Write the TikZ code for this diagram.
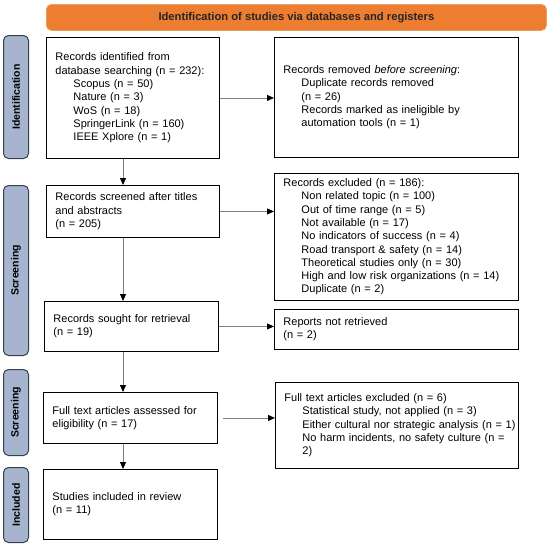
\documentclass[tikz,border=0pt]{standalone}
\usepackage{fontspec}
\setmainfont{Liberation Sans}
\usetikzlibrary{arrows.meta}
\definecolor{tabfill}{HTML}{A6B4D0}
\definecolor{tabdraw}{HTML}{3A3F4E}
\definecolor{orangefill}{HTML}{ED7D31}
\definecolor{orangedraw}{HTML}{E8A060}
\definecolor{arrgray}{HTML}{808080}
\newcommand{\ind}{\hspace*{18pt}}
\begin{document}
\begin{tikzpicture}[x=1pt,y=-1pt,
  every node/.style={font=\fontsize{11}{13.3}\selectfont},
  box/.style={draw=black, line width=0.9pt, anchor=north west, inner xsep=9pt, inner ysep=0pt, align=left, fill=white},
  tab/.style={draw=tabdraw, fill=tabfill, line width=1pt, rounded corners=5pt, minimum width=25pt, anchor=north west, inner sep=0pt},
  tablabel/.style={rotate=90, font=\fontsize{10.5}{12}\selectfont\bfseries, text=black},
  arr/.style={draw=arrgray, line width=0.9pt, -{Triangle[length=7pt,width=6pt,color=black]}}
]
\useasboundingbox (0,0) rectangle (550,544);
% banner
\node[draw=orangedraw, fill=orangefill, rounded corners=5pt, line width=0.8pt, anchor=north west, minimum width=500pt, minimum height=26pt, inner sep=0pt, font=\fontsize{11.2}{12}\selectfont\bfseries, text=black!85] (ban) at (46,4) {Identification of studies via databases and registers};
% side tabs
\node[tab, minimum height=123pt] (t1) at (3,35) {};
\node[tablabel] (l1) at (t1.center) {Identification};
\node[tab, minimum height=170pt] (t2) at (3,185) {};
\node[tablabel] (l2) at (t2.center) {Screening};
\node[tab, minimum height=86pt] (t3) at (3,369) {};
\node[tablabel] (l3) at (t3.center) {Screening};
\node[tab, minimum height=75pt] (t4) at (3,467) {};
\node[tablabel] (l4) at (t4.center) {Included};
% boxes
\node[box, text width=155pt, minimum height=121pt] (b1) at (46,37) {Records identified from\\database searching (n = 232):\\\ind Scopus (n = 50)\\\ind Nature (n = 3)\\\ind WoS (n = 18)\\\ind SpringerLink (n = 160)\\\ind IEEE Xplore (n = 1)};
\node[box, text width=226pt, minimum height=120pt] (b2) at (274,37) {Records removed \textit{before screening}:\\\ind Duplicate records removed\\\ind (n = 26)\\\ind Records marked as ineligible by\\\ind automation tools (n = 1)};
\node[box, text width=155pt, minimum height=52pt] (b3) at (46,185) {Records screened after titles\\and abstracts\\(n = 205)};
\node[box, text width=226pt, minimum height=127pt] (b4) at (274,173) {Records excluded (n = 186):\\\ind Non related topic (n = 100)\\\ind Out of time range (n = 5)\\\ind Not available (n = 17)\\\ind No indicators of success (n = 4)\\\ind Road transport \& safety (n = 14)\\\ind Theoretical studies only (n = 30)\\\ind High and low risk organizations (n = 14)\\\ind Duplicate (n = 2)};
\node[box, text width=156pt, minimum height=50pt] (b5) at (44,301) {Records sought for retrieval\\(n = 19)};
\node[box, text width=226pt, minimum height=40pt] (b6) at (274,309) {Reports not retrieved\\(n = 2)};
\node[box, text width=156pt, minimum height=51pt] (b7) at (43,392) {Full text articles assessed for\\eligibility (n = 17)};
\node[box, text width=225pt, minimum height=86pt] (b8) at (275,382) {Full text articles excluded (n = 6)\\\ind Statistical study, not applied (n = 3)\\\ind \mbox{Either cultural nor strategic analysis (n = 1)}\hss\\\ind No harm incidents, no safety culture (n =\\\ind 2)};
\node[box, text width=156pt, minimum height=70pt] (b9) at (43,469) {Studies included in review\\(n = 11)};
% connectors
\coordinate (ax) at (123,0);
\draw[arr] (b1.south -| ax) -- (b3.north -| ax);
\draw[arr] (b3.south -| ax) -- (b5.north -| ax);
\draw[arr] (b5.south -| ax) -- (b7.north -| ax);
\draw[arr] (b7.south -| ax) -- (b9.north -| ax);
\draw[arr] (b1.east) -- (b1.east -| b2.west);
\draw[arr] (b3.east) -- (b3.east -| b4.west);
\draw[arr] (b5.east) -- (b5.east -| b6.west);
\draw[arr, shorten <=5pt] (b7.east) -- (b7.east -| b8.west);
\end{tikzpicture}
\end{document}
